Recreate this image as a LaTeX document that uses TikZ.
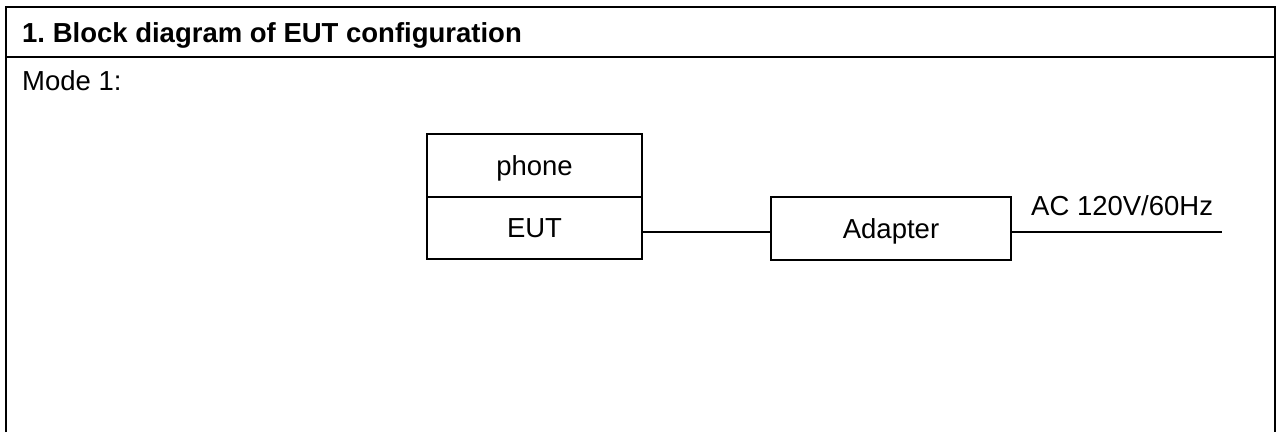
\documentclass[tikz,border=0pt]{standalone}
\usepackage{fontspec}
\setmainfont{Liberation Sans}
\frenchspacing
\begin{document}
\begin{tikzpicture}[x=1pt,y=-1pt,
  frameline/.style={line width=2.6pt},
  box/.style={draw,line width=1.8pt,inner sep=0pt,text height=19.7pt,text depth=0pt,align=center},
  wire/.style={line width=1.8pt},
  every node/.style={font=\fontsize{27.5}{32}\selectfont}]
\useasboundingbox (0,0) rectangle (1281,432);
\fill[white] (0,0) rectangle (1281,432);
% frame
\draw[frameline] (6,432) -- (6,7) -- (1275,7) -- (1275,432);
\draw[frameline] (6,57) -- (1275,57);
\node[anchor=base west,inner sep=0pt,font=\bfseries\fontsize{27.5}{32}\selectfont] (title) at (22,42) {1. Block diagram of EUT configuration};
\node[anchor=base west,inner sep=0pt] (mode) at (22,90) {Mode 1:};
% boxes
\node[box,minimum width=215pt,minimum height=63pt] (phone) at (534.5,165.5) {phone};
\node[box,minimum width=215pt,minimum height=62pt] (eut) at (534.5,228) {EUT};
\node[box,minimum width=240pt,minimum height=63pt] (adapter) at (891,228.5) {Adapter};
\coordinate (acend) at (1222,232);
\draw[wire] (eut.east |- acend) -- (adapter.west |- acend);
\draw[wire] (adapter.east |- acend) -- (acend);
\node[anchor=base west,inner sep=0pt] (ac) at (1031,215) {AC 120V/60Hz};
\end{tikzpicture}
\end{document}
